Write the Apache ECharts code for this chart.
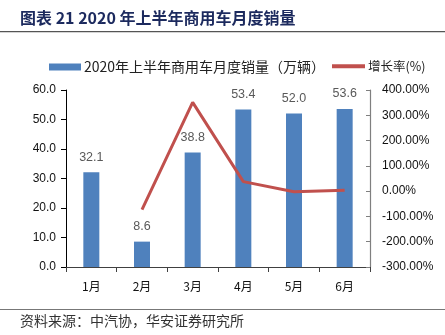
<!DOCTYPE html>
<html>
<head>
<meta charset="utf-8">
<script src="https://cdn.jsdelivr.net/npm/echarts@6/dist/echarts.min.js"></script>
<style>
  html, body { margin: 0; padding: 0; background: #fff; }
  #chart { width: 445px; height: 335px; }
</style>
</head>
<body>
<div id="chart"></div>
<script>
// Monthly commercial vehicle sales, first half of 2020
const months = ['1月', '2月', '3月', '4月', '5月', '6月'];
const sales = [32.1, 8.6, 38.8, 53.4, 52.0, 53.6];          // 万辆
const growth = [null, -73.2, 351.2, 37.6, -2.6, 3.1];        // %
const salesTicks = { min: 0, max: 60, interval: 10 };
const growthTicks = { min: -300, max: 400, interval: 100 };

const barName = '2020年上半年商用车月度销量（万辆）';
const lineName = '增长率(%)';
const cjk = '"Noto Sans CJK SC", "Noto Sans", sans-serif';
const latin = '"Liberation Sans", Arial, "Noto Sans CJK SC", sans-serif';

const chart = echarts.init(document.getElementById('chart'), null, { renderer: 'canvas' });

chart.setOption({
  animation: false,
  backgroundColor: '#ffffff',
  graphic: [
    { type: 'text', left: 20, top: 10,
      style: { text: '图表 21 2020 年上半年商用车月度销量', fill: '#1c2a5e',
               font: 'bold 16px ' + cjk } },
    { type: 'rect', left: 0, top: 31, shape: { width: 445, height: 1.2 },
      style: { fill: '#555555' } },
    { type: 'rect', left: 0, top: 309, shape: { width: 445, height: 1 },
      style: { fill: '#777777' } },
    { type: 'text', left: 20, top: 314,
      style: { text: '资料来源：中汽协，华安证券研究所', fill: '#333333',
               font: '14px ' + cjk } }
  ],
  legend: [
    { data: [barName], left: 44, top: 55, itemWidth: 32, itemHeight: 7, itemGap: 4,
      icon: 'rect',
      textStyle: { fontFamily: cjk, fontSize: 14, color: '#222', padding: [0, 0, 0, -2] } },
    { data: [lineName], left: 327, top: 55, itemWidth: 33, itemHeight: 4, itemGap: 4,
      icon: 'rect',
      textStyle: { fontFamily: cjk, fontSize: 12.5, color: '#222', padding: [0, 0, 0, -2] } }
  ],
  grid: { left: 66, right: 75, top: 90, bottom: 68 },
  xAxis: {
    type: 'category',
    data: months,
    axisLine: { lineStyle: { color: '#404040', width: 1 } },
    axisTick: { show: true, alignWithLabel: false, length: 5, inside: false,
                lineStyle: { color: '#404040' } },
    axisLabel: { color: '#111', fontFamily: cjk, fontSize: 12, margin: 13 }
  },
  yAxis: [
    {
      type: 'value', min: salesTicks.min, max: salesTicks.max, interval: salesTicks.interval,
      axisLine: { show: true, lineStyle: { color: '#000', width: 1 } },
      axisTick: { show: true, length: 5, lineStyle: { color: '#000' } },
      splitLine: { show: false },
      axisLabel: { color: '#111', fontFamily: latin, fontSize: 12, margin: 10,
                   formatter: v => v.toFixed(1) }
    },
    {
      type: 'value', position: 'right',
      min: growthTicks.min, max: growthTicks.max, interval: growthTicks.interval,
      axisLine: { show: true, lineStyle: { color: '#7f7f7f', width: 1.2 } },
      axisTick: { show: true, inside: true, length: 4, lineStyle: { color: '#7f7f7f' } },
      splitLine: { show: false },
      axisLabel: { color: '#111', fontFamily: latin, fontSize: 12, margin: 12,
                   formatter: v => v.toFixed(2) + '%' }
    }
  ],
  series: [
    {
      name: barName, type: 'bar', data: sales, yAxisIndex: 0,
      barWidth: 16,
      itemStyle: { color: '#4f81bd' },
      label: { show: true, position: 'top', distance: 9, color: '#595959',
               fontFamily: latin, fontSize: 12.5, formatter: p => p.value.toFixed(1) }
    },
    {
      name: lineName, type: 'line', data: growth, yAxisIndex: 1,
      symbol: 'none', connectNulls: false,
      lineStyle: { color: '#c0504d', width: 3 },
      itemStyle: { color: '#c0504d' }
    }
  ]
});
</script>
</body>
</html>
